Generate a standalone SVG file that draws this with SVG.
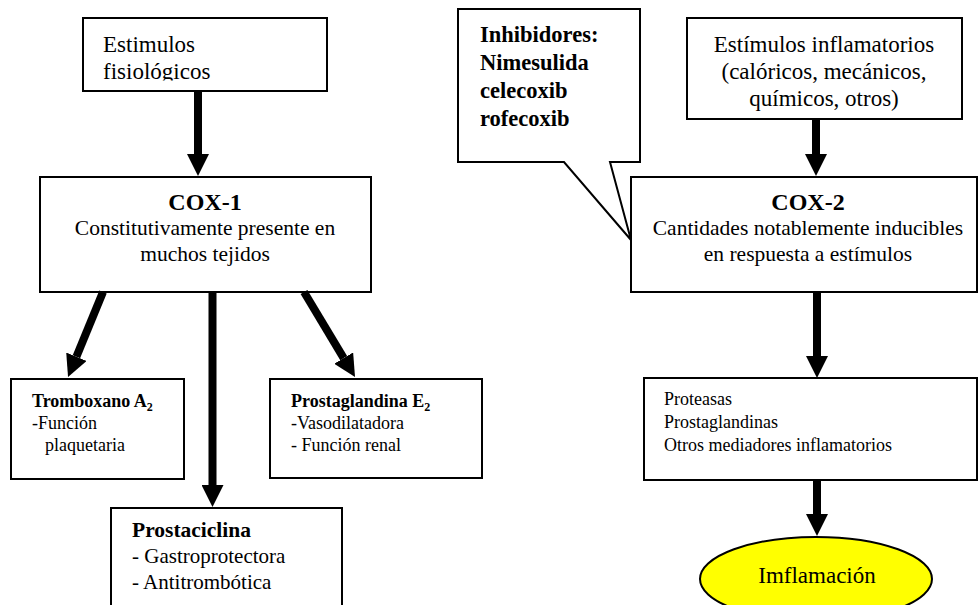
<svg xmlns="http://www.w3.org/2000/svg" width="979" height="605" viewBox="0 0 979 605">
<style>
.box{fill:#fff;stroke:#000;stroke-width:2}
.t{font-family:"Liberation Serif","Times New Roman",serif;fill:#000}
.big{font-size:23px}
.mid{font-size:21.5px}
.sm{font-size:18px}
.b{font-weight:bold}
.conn line{stroke:#000;stroke-width:8;marker-end:url(#ah)}
</style>
<defs>
<marker id="ah" markerUnits="userSpaceOnUse" markerWidth="22" markerHeight="22" viewBox="0 0 22 22" refX="0" refY="11" orient="auto">
<path d="M0,0 L22,11 L0,22 z" fill="#000"/>
</marker>
<clipPath id="clip1"><rect x="83" y="18" width="245" height="62.5"/></clipPath>
</defs>
<rect width="979" height="605" fill="#fff"/>

<g id="estimulos-fisiologicos">
<rect class="box" x="83" y="18" width="244" height="73"/>
<g clip-path="url(#clip1)">
<text class="t big" x="103" y="52">Estimulos</text>
<text class="t big" x="103" y="79">fisiológicos</text>
</g>
</g>

<g id="cox1">
<rect class="box" x="40" y="177" width="331" height="115"/>
<text class="t b" font-size="24" x="205" y="210" text-anchor="middle">COX-1</text>
<text class="t mid" x="205" y="235" text-anchor="middle">Constitutivamente presente en</text>
<text class="t mid" x="205" y="261" text-anchor="middle">muchos tejidos</text>
</g>

<g id="tromboxano">
<rect class="box" x="11" y="379" width="173" height="100"/>
<text class="t sm b" x="32" y="407">Tromboxano A<tspan font-size="12" dy="4">2</tspan></text>
<text class="t sm" x="32" y="429">-Función</text>
<text class="t sm" x="45" y="451">plaquetaria</text>
</g>

<g id="prostaglandina-e2">
<rect class="box" x="270" y="379" width="212" height="99"/>
<text class="t sm b" x="291" y="407">Prostaglandina E<tspan font-size="12" dy="4">2</tspan></text>
<text class="t sm" x="291" y="429">-Vasodilatadora</text>
<text class="t sm" x="291" y="451">- Función renal</text>
</g>

<g id="prostaciclina">
<rect class="box" x="111" y="508" width="231" height="110"/>
<text class="t b" font-size="21.5" x="132" y="537">Prostaciclina</text>
<text class="t" font-size="21" x="132" y="563">- Gastroprotectora</text>
<text class="t" font-size="21" x="132" y="589">- Antitrombótica</text>
</g>

<g id="estimulos-inflamatorios">
<rect class="box" x="687" y="18" width="275" height="101"/>
<text class="t big" x="824" y="52" text-anchor="middle">Estímulos inflamatorios</text>
<text class="t big" x="824" y="79" text-anchor="middle">(calóricos, mecánicos,</text>
<text class="t big" x="824" y="106" text-anchor="middle">químicos, otros)</text>
</g>

<g id="cox2">
<rect class="box" x="631" y="177" width="346" height="115"/>
<text class="t b" font-size="24" x="808" y="210" text-anchor="middle">COX-2</text>
<text class="t mid" x="808" y="235" text-anchor="middle">Cantidades notablemente inducibles</text>
<text class="t mid" x="808" y="261" text-anchor="middle">en respuesta a estímulos</text>
</g>

<g id="inhibidores">
<path class="box" d="M458,9 H640 V162 H610 L631,240 L564,162 H458 Z"/>
<text class="t b" font-size="22.5" x="480" y="42">Inhibidores:</text>
<text class="t b" font-size="22.5" x="480" y="70">Nimesulida</text>
<text class="t b" font-size="22.5" x="480" y="98">celecoxib</text>
<text class="t b" font-size="22.5" x="480" y="126">rofecoxib</text>
</g>

<g id="mediadores">
<rect class="box" x="644" y="378" width="333" height="102"/>
<text class="t sm" x="664" y="405">Proteasas</text>
<text class="t sm" x="664" y="428">Prostaglandinas</text>
<text class="t sm" x="664" y="451">Otros mediadores inflamatorios</text>
</g>

<g id="inflamacion">
<ellipse cx="816" cy="579" rx="116" ry="42" fill="#ffff00" stroke="#000" stroke-width="2"/>
<text class="t big" x="817" y="583" text-anchor="middle">Imflamación</text>
</g>

<g id="connectors" class="conn">
<line x1="198" y1="91" x2="198" y2="154"/>
<line x1="103" y1="292" x2="76.4" y2="356.7"/>
<line x1="212.5" y1="292" x2="212.5" y2="485"/>
<line x1="304" y1="292" x2="343.7" y2="358.1"/>
<line x1="816" y1="119" x2="816" y2="154"/>
<line x1="817" y1="292" x2="817" y2="356"/>
<line x1="817" y1="480" x2="817" y2="514"/>
</g>
</svg>
